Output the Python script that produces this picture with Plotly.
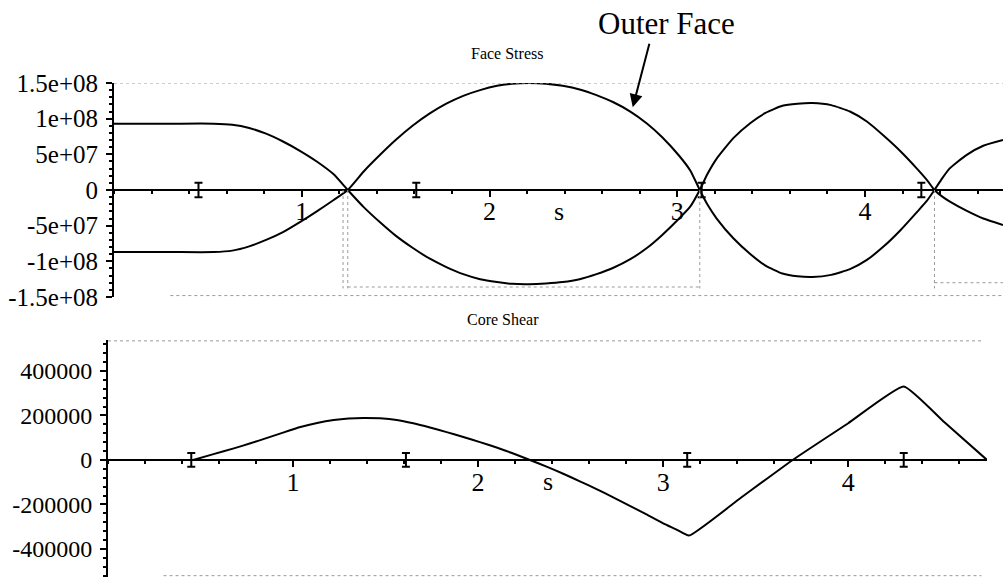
import plotly.graph_objects as go

# ---- Face stress along s (two faces, values in Pa) ----
s_face = [0.0, 0.30, 0.53, 0.63, 0.72, 0.81, 0.90, 0.99, 1.08, 1.17, 1.245, 1.33, 1.42, 1.50,
          1.59, 1.68, 1.77, 1.86, 1.95, 2.04, 2.12, 2.21, 2.30, 2.39, 2.48, 2.57, 2.66, 2.75,
          2.84, 2.92, 3.01, 3.07, 3.12, 3.16, 3.21, 3.30, 3.39, 3.47, 3.56, 3.64, 3.72, 3.82,
          3.92, 4.01, 4.10, 4.19, 4.28, 4.33, 4.37, 4.41, 4.45, 4.54, 4.63, 4.735]
face_a = [9.3e7, 9.3e7, 9.3e7, 9.15e7, 8.7e7, 7.9e7, 6.8e7, 5.5e7, 4.0e7, 2.2e7, 0.0,
          -2.4e7, -4.6e7, -6.4e7, -8.1e7, -9.6e7, -1.08e8, -1.18e8, -1.25e8, -1.29e8, -1.315e8,
          -1.32e8, -1.31e8, -1.29e8, -1.25e8, -1.18e8, -1.09e8, -9.7e7, -8.1e7, -6.3e7, -4.0e7,
          -2.3e7, 0.0, 2.2e7, 4.4e7, 7.3e7, 9.4e7, 1.08e8, 1.18e8, 1.21e8, 1.22e8, 1.19e8,
          1.10e8, 9.6e7, 7.6e7, 5.4e7, 2.9e7, 1.4e7, 0.0, -9.0e6, -1.6e7, -2.9e7, -4.0e7, -4.9e7]
face_b = [-8.7e7, -8.7e7, -8.7e7, -8.5e7, -7.9e7, -7.0e7, -5.9e7, -4.5e7, -3.0e7, -1.4e7, 0.0,
          2.6e7, 5.0e7, 7.0e7, 9.0e7, 1.07e8, 1.21e8, 1.32e8, 1.40e8, 1.46e8, 1.49e8,
          1.50e8, 1.49e8, 1.46e8, 1.41e8, 1.33e8, 1.23e8, 1.10e8, 9.3e7, 7.4e7, 4.8e7,
          2.7e7, 0.0, -2.0e7, -4.0e7, -6.8e7, -9.0e7, -1.06e8, -1.17e8, -1.21e8, -1.22e8, -1.19e8,
          -1.11e8, -9.8e7, -7.9e7, -5.6e7, -3.0e7, -1.5e7, 0.0, 1.6e7, 3.0e7, 4.9e7, 6.2e7, 7.0e7]

# ---- Core shear along s ----
s_core = [0.46, 0.57, 0.68, 0.77, 0.86, 0.95, 1.04, 1.13, 1.22, 1.30, 1.38, 1.47, 1.56, 1.65,
          1.74, 1.83, 1.92, 2.01, 2.10, 2.19, 2.28, 2.37, 2.46, 2.55, 2.64, 2.73, 2.82, 2.91,
          3.00, 3.07, 3.14, 3.42, 3.70, 4.00, 4.30, 4.52, 4.75]
core = [0.0, 2.6e4, 5.2e4, 7.5e4, 9.9e4, 1.24e5, 1.48e5, 1.66e5, 1.79e5, 1.86e5, 1.89e5,
        1.87e5, 1.80e5, 1.65e5, 1.46e5, 1.25e5, 1.03e5, 8.0e4, 5.6e4, 2.9e4, 0.0, -3.0e4,
        -6.2e4, -9.6e4, -1.31e5, -1.68e5, -2.06e5, -2.45e5, -2.85e5, -3.12e5, -3.4e5,
        -1.7e5, 0.0, 1.65e5, 3.3e5, 1.69e5, 0.0]

# ---- section markers ("I" marks on the s axis) ----
s_marks = [0.45, 1.61, 3.13, 4.30]
# crossings of the two face curves
s_cross = [1.245, 3.12, 4.37]

face_ticks = [-1.5e8, -1e8, -5e7, 0, 5e7, 1e8, 1.5e8]
face_ticktext = ["-1.5e+08", "-1e+08", "-5e+07", "0", "5e+07", "1e+08", "1.5e+08"]
core_ticks = [-400000, -200000, 0, 200000, 400000]
core_ticktext = ["-400000", "-200000", "0", "200000", "400000"]
s_ticks = [1, 2, 3, 4]

W, H = 1003, 577
SERIF = "Liberation Serif, Times New Roman, serif"

top_range = [-1.5e8, 1.5e8]
top_dom = [1 - 297 / H, 1 - 83 / H]
bot_range = [-5.26e5, 5.39e5]
bot_dom = [0.0, 1 - 340 / H]


def zero_pos(dom, rng):
    return dom[0] + (0 - rng[0]) / (rng[1] - rng[0]) * (dom[1] - dom[0])


fig = go.Figure()
line = dict(color="black", width=2)
fig.add_trace(go.Scatter(x=s_face, y=face_a, mode="lines", line=dict(line, shape="spline", smoothing=0.5),
                         xaxis="x", yaxis="y", showlegend=False))
fig.add_trace(go.Scatter(x=s_face, y=face_b, mode="lines", line=dict(line, shape="spline", smoothing=0.5),
                         xaxis="x", yaxis="y", showlegend=False))
fig.add_trace(go.Scatter(x=s_core, y=core, mode="lines", line=dict(line, shape="spline", smoothing=0.4),
                         xaxis="x2", yaxis="y2", showlegend=False))

for xa, ya, half in (("x", "y", 1.0e7), ("x2", "y2", 3.1e4)):
    fig.add_trace(go.Scatter(x=s_marks, y=[0] * len(s_marks), mode="markers",
                             marker=dict(size=1, color="black"),
                             error_y=dict(type="constant", value=half, width=4, thickness=2, color="black"),
                             xaxis=xa, yaxis=ya, showlegend=False))

dot = dict(color="#9a9a9a", width=1, dash="dot")
shapes = [
    dict(type="line", xref="x", yref="y", x0=0, x1=4.735, y0=1.5e8, y1=1.5e8, line=dot),
    dict(type="line", xref="x", yref="y", x0=0.3, x1=4.735, y0=-1.48e8, y1=-1.48e8, line=dot),
    dict(type="line", xref="x", yref="y", x0=1.245, x1=3.12, y0=-1.36e8, y1=-1.36e8, line=dot),
    dict(type="line", xref="x", yref="y", x0=4.37, x1=4.735, y0=-1.30e8, y1=-1.30e8, line=dot),
    dict(type="line", xref="x2", yref="y2", x0=0, x1=4.72, y0=5.35e5, y1=5.35e5, line=dot),
    dict(type="line", xref="x2", yref="y2", x0=0.3, x1=4.72, y0=-5.2e5, y1=-5.2e5, line=dot),
]
for sc in s_cross:
    shapes.append(dict(type="line", xref="x", yref="y", x0=sc, x1=sc, y0=0, y1=-1.38e8, line=dot))
shapes.append(dict(type="line", xref="x", yref="y", x0=1.22, x1=1.22, y0=0, y1=-1.38e8, line=dot))

axis_common = dict(showgrid=False, zeroline=False, showline=True, linecolor="black", linewidth=2,
                   ticks="outside", tickcolor="black", tickwidth=1.5, fixedrange=True,
                   automargin=False)

fig.update_layout(
    template="none",
    width=W, height=H,
    margin=dict(l=0, r=0, t=0, b=0, pad=0),
    paper_bgcolor="white", plot_bgcolor="white",
    showlegend=False,
    shapes=shapes,
    xaxis=dict(axis_common, domain=[114 / W, 1.0], range=[0, 4.735], anchor="free",
               position=zero_pos(top_dom, top_range), tickvals=s_ticks, ticklen=6,
               tickfont=dict(family=SERIF, size=26, color="black"), ticklabelstandoff=-8,
               minor=dict(tickmode="linear", tick0=0, dtick=0.2, ticklen=3, ticks="outside",
                          tickcolor="black")),
    yaxis=dict(axis_common, domain=top_dom, range=top_range, anchor="x",
               tickvals=face_ticks, ticktext=face_ticktext, ticklen=6,
               tickfont=dict(family=SERIF, size=25, color="black"), ticklabelstandoff=3,
               minor=dict(tickmode="linear", tick0=0, dtick=1e7, ticklen=3, ticks="outside",
                          tickcolor="black")),
    xaxis2=dict(axis_common, domain=[108 / W, 987 / W], range=[0, 4.75], anchor="free",
                position=zero_pos(bot_dom, bot_range), tickvals=s_ticks, ticklen=6,
                tickfont=dict(family=SERIF, size=26, color="black"), ticklabelstandoff=-7,
                minor=dict(tickmode="linear", tick0=0, dtick=0.2, ticklen=3, ticks="outside",
                           tickcolor="black")),
    yaxis2=dict(axis_common, domain=bot_dom, range=bot_range, anchor="x2",
                tickvals=core_ticks, ticktext=core_ticktext, ticklen=6,
                tickfont=dict(family=SERIF, size=24, color="black"), ticklabelstandoff=3,
                minor=dict(tickmode="linear", tick0=0, dtick=4e4, ticklen=3, ticks="outside",
                           tickcolor="black")),
)

fig.add_annotation(x=0.5, xref="x domain", y=0, yref="y", yshift=-21, text="s", showarrow=False,
                   font=dict(family=SERIF, size=26, color="black"))
fig.add_annotation(x=0.5, xref="x2 domain", y=0, yref="y2", yshift=-22, text="s", showarrow=False,
                   font=dict(family=SERIF, size=26, color="black"))
fig.add_annotation(x=507 / W, xref="paper", y=1 - 53 / H, yref="paper", text="Face Stress",
                   xanchor="center", yanchor="middle", showarrow=False,
                   font=dict(family=SERIF, size=16, color="black"))
fig.add_annotation(x=503 / W, xref="paper", y=1 - 319 / H, yref="paper", text="Core Shear",
                   xanchor="center", yanchor="middle", showarrow=False,
                   font=dict(family=SERIF, size=16, color="black"))
fig.add_annotation(x=666 / W, xref="paper", y=1 - 24 / H, yref="paper", text="Outer Face",
                   xanchor="center", yanchor="middle", showarrow=False,
                   font=dict(family=SERIF, size=31, color="black"))
fig.add_annotation(x=2.763, xref="x", y=1.16e8, yref="y", text="", showarrow=True,
                   ax=17, ay=-65, arrowhead=2, arrowsize=1.3, arrowwidth=2, arrowcolor="black")

fig.write_html("out.html")
